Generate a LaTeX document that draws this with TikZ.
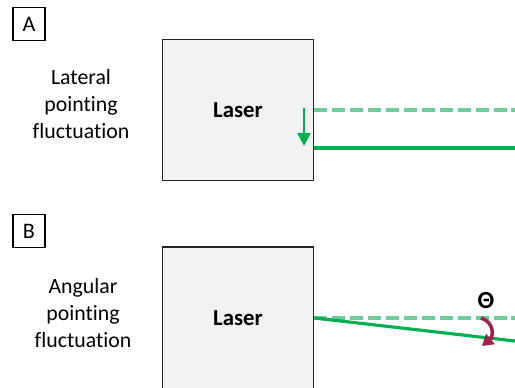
\documentclass[tikz,border=0pt]{standalone}
\usepackage{fontspec}
\setmainfont{Carlito}[Ligatures=NoCommon]
\usepackage{tikz}
\usetikzlibrary{positioning,arrows.meta,calc}
\definecolor{beam}{HTML}{00B050}
\definecolor{paleBeam}{HTML}{6FCB98}
\definecolor{tilt}{HTML}{A0204C}
\definecolor{casing}{HTML}{F2F2F2}
\tikzset{
  panelbox/.style={draw=black, thick, minimum width=0.64cm, minimum height=0.66cm, inner sep=0pt, font=\fontsize{12.6}{15}\selectfont},
  caption/.style={align=center, font=\fontsize{12.4}{15.4}\selectfont},
  laserbox/.style={draw=black!85, line width=1pt, fill=casing, minimum width=3.02cm, minimum height=2.82cm, inner sep=0pt, font=\fontsize{13}{15}\selectfont\bfseries},
  realbeam/.style={draw=beam, line width=1.8pt},
  refbeam/.style={draw=paleBeam, line width=1.8pt, dash pattern=on 7.4pt off 2.8pt},
  shiftarrow/.style={-{Triangle[length=2.6mm,width=2.6mm]}, draw=beam, fill=beam, line width=1.3pt},
  tiltarrow/.style={-{Triangle[length=2.2mm,width=2.6mm]}, draw=tilt, line width=2pt}
}
\begin{document}
\begin{tikzpicture}[x=0.02cm,y=-0.02cm]
  \useasboundingbox (0,0) rectangle (515,387);
  % panel A
  \node[panelbox] (boxA) at (29,24) {A};
  \node[caption] (capA) at (81,104) {Lateral\\pointing\\fluctuation};
  \node[laserbox] (laserA) at (238,110) {Laser};
  \coordinate (refA) at (515,110);
  \coordinate (outA) at (515,148);
  \draw[refbeam] (laserA.east |- refA) -- (refA);
  \draw[realbeam] (laserA.east |- outA) -- (outA);
  \coordinate (shiftTop) at (304,108);
  \coordinate (shiftEnd) at (304,146);
  \draw[shiftarrow] (shiftTop) -- (shiftEnd);
  % panel B
  \node[panelbox] (boxB) at (29,231) {B};
  \node[caption] (capB) at (83,313) {Angular\\pointing\\fluctuation};
  \node[laserbox, minimum height=3.2cm] (laserB) at (238,327) {};
  \node[font=\fontsize{13}{15}\selectfont\bfseries] (labelB) at (238,318) {Laser};
  \coordinate (refB) at (515,318);
  \coordinate (outB) at (515,341);
  \draw[refbeam] (laserB.east |- refB) -- (refB);
  \draw[realbeam] (laserB.east |- refB) -- (outB);
  \node[font=\fontsize{14}{16}\selectfont\bfseries] (theta) at (486,301) {Θ};
  \coordinate (tiltStart) at (481,318);
  \coordinate (tiltEnd) at (482,346);
  \draw[tiltarrow] (tiltStart) .. controls (494,322) and (494,336) .. (tiltEnd);
\end{tikzpicture}
\end{document}
